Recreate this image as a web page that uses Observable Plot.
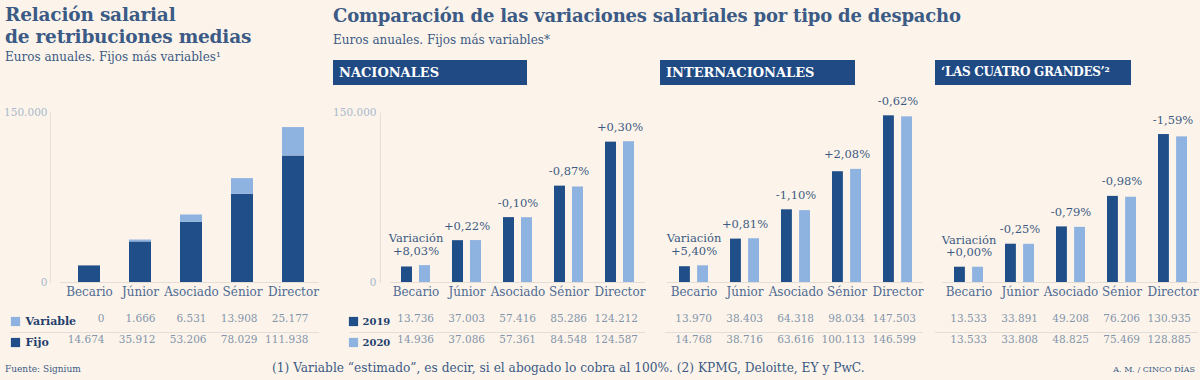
<!DOCTYPE html>
<html><head><meta charset="utf-8">
<script src="https://cdn.jsdelivr.net/npm/d3@7"></script>
<script src="https://cdn.jsdelivr.net/npm/@observablehq/plot@0.6"></script>
<style>
html,body{margin:0;padding:0;background:#fcf4ea;}
#wrap{position:relative;width:1200px;height:380px;overflow:hidden;font-family:"DejaVu Serif",serif;color:#3b5a85;}
.abs{position:absolute;white-space:nowrap;}
.t{font-weight:bold;letter-spacing:-0.2px;}
.s{font-size:12px;}
.box{position:absolute;background:#1f4a84;color:#fff;font-weight:bold;font-size:13px;height:25px;line-height:25px;padding-left:6px;box-sizing:border-box;white-space:nowrap;}
#plots svg{position:absolute;left:0;top:0;}
</style></head><body><div id="wrap">
<div id="plots"></div>
<div class="abs t" style="left:5px;top:4px;line-height:22px;font-size:18.5px;">Relación salarial<br>de retribuciones medias</div>
<div class="abs s" style="left:5px;top:50px;">Euros anuales. Fijos más variables¹</div>
<div class="abs t" style="left:333px;top:5px;font-size:18px;">Comparación de las variaciones salariales por tipo de despacho</div>
<div class="abs s" style="left:333px;top:33px;">Euros anuales. Fijos más variables*</div>
<div class="box" style="left:333px;top:60px;width:194px;">NACIONALES</div>
<div class="box" style="left:660px;top:60px;width:195px;">INTERNACIONALES</div>
<div class="box" style="left:935px;top:60px;width:196px;font-size:12px;letter-spacing:-0.3px;">‘LAS CUATRO GRANDES’²</div>
<div class="abs" style="left:5px;top:364px;font-size:9px;">Fuente: Signium</div>
<div class="abs" style="left:272px;top:361px;font-size:12.2px;">(1) Variable “estimado”, es decir, si el abogado lo cobra al 100%. (2) KPMG, Deloitte, EY y PwC.</div>
<div class="abs" style="right:5px;top:365px;font-size:8px;">A. M. / CINCO DÍAS</div>
</div>
<script>
const cats = ["Becario","Júnior","Asociado","Sénior","Director"];
const variable = [0,1666,6531,13908,25177];
const fijo = [14674,35912,53206,78029,111938];
const nac2019 = [13736,37003,57416,85286,124212];
const nac2020 = [14936,37086,57361,84548,124587];
const nacVar = ["+8,03%","+0,22%","-0,10%","-0,87%","+0,30%"];
const int2019 = [13970,38403,64318,98034,147503];
const int2020 = [14768,38716,63616,100113,146599];
const intVar = ["+5,40%","+0,81%","-1,10%","+2,08%","-0,62%"];
const big2019 = [13533,33891,49208,76206,130935];
const big2020 = [13533,33808,48825,75469,128885];
const bigVar = ["+0,00%","-0,25%","-0,79%","-0,98%","-1,59%"];
const yTicks = [0,150000];
const rowLabelsLeft = ["Variable","Fijo"];
const rowLabelsYears = ["2019","2020"];

const DARK="#1f4e88", LIGHT="#8fb3e0", CAT="#4e6a93", NUM="#8494aa", LAB="#3d5a82", GRID="#e4ded6", AX="#a9b8cc";
const fmt = d3.formatLocale({decimal:",",thousands:".",grouping:[3],currency:["","€"]}).format(",d");
const FONT = "DejaVu Serif";
const H=380, MT=112.5, MB=98;
const R1=39, R2=60, SEP=50;
const host = document.getElementById("plots");

function base(marginLeft, marginRight, x0, x1, pi, po, marks){
  return Plot.plot({
    width:1200, height:H, marginTop:MT, marginBottom:MB, marginLeft, marginRight,
    x:{domain:cats, range:[x0,x1], paddingInner:pi, paddingOuter:po, axis:null},
    y:{domain:[0,150000], axis:null},
    style:{background:"transparent", fontFamily:FONT, color:CAT, overflow:"visible"},
    marks
  });
}

function tableLabels(labels, colors, dxText, dxSq, fs){
  const ms = [];
  labels.forEach((lab,i)=>{
    ms.push(Plot.dot([lab], {y:()=>0, frameAnchor:"left", dx:dxSq, dy:i===0?R1:R2, symbol:"square", r:5.2, fill:colors[i]}));
    ms.push(Plot.text([lab], {y:()=>0, frameAnchor:"left", dx:dxText, dy:i===0?R1:R2, text:d=>d, textAnchor:"start", fontWeight:"bold", fontSize:fs, fill:"#1f3f6e"}));
  });
  return ms;
}

// Left stacked panel
{
  const stack = cats.flatMap((c,i)=>[{cat:c,type:"Fijo",value:fijo[i]},{cat:c,type:"Variable",value:variable[i]}]);
  const rows = cats.map((c,i)=>({cat:c, v:variable[i], f:fijo[i]}));
  host.append(base(50, 1200-319, 63, 319, 0.573, 0.27, [
    Plot.frame({anchor:"left", stroke:GRID}),
    Plot.ruleY([0], {stroke:GRID, insetLeft:10}),
    Plot.barY(stack, {x:"cat", y:"value", z:"type", fill:d=>d.type==="Fijo"?DARK:LIGHT}),
    Plot.axisY({ticks:yTicks, tickFormat:fmt, tickSize:0, tickPadding:3, fontSize:10.5, color:AX, label:null}),
    Plot.axisX({tickSize:0, tickPadding:5, fontSize:12, color:CAT, label:null}),
    Plot.ruleY([0], {stroke:GRID, dy:SEP, insetLeft:-40}),
    Plot.text(rows, {x:"cat", frameAnchor:"bottom", dy:R1, dx:15, textAnchor:"end", text:d=>fmt(d.v), fontSize:10.5, fill:NUM}),
    Plot.text(rows, {x:"cat", frameAnchor:"bottom", dy:R2, dx:15, textAnchor:"end", text:d=>fmt(d.f), fontSize:10.5, fill:NUM}),
    ...tableLabels(rowLabelsLeft, [LIGHT, DARK], -25, -35, 11)
  ]));
}

function grouped(v19, v20, vr, ml, x0, x1, withAxis, sepInset){
  const rows = cats.map((c,i)=>({cat:c, a:v19[i], b:v20[i], v:vr[i], m:Math.max(v19[i],v20[i])}));
  const pi=0.4325, po=0.211;
  const step=(x1-x0)/(cats.length-pi+2*po), bw=step*(1-pi), barW=11;
  const marks = [
    Plot.ruleY([0], {stroke:GRID, insetLeft:x0-ml}),
    Plot.barY(rows, {x:"cat", y:"a", fill:DARK, insetRight:bw-barW}),
    Plot.barY(rows, {x:"cat", y:"b", fill:LIGHT, insetLeft:bw-barW}),
    Plot.text(rows, {x:"cat", y:"m", text:(d,i)=> i===0 ? "Variación\n"+d.v : d.v, lineAnchor:"bottom", dy:-11, fontSize:11.5, fill:LAB, lineHeight:1.1}),
    Plot.axisX({tickSize:0, tickPadding:5, fontSize:12, color:CAT, label:null}),
    Plot.ruleY([0], {stroke:GRID, dy:SEP, insetLeft:sepInset}),
    Plot.text(rows, {x:"cat", frameAnchor:"bottom", dy:R1, dx:18, textAnchor:"end", text:d=>fmt(d.a), fontSize:10.5, fill:NUM}),
    Plot.text(rows, {x:"cat", frameAnchor:"bottom", dy:R2, dx:18, textAnchor:"end", text:d=>fmt(d.b), fontSize:10.5, fill:NUM})
  ];
  if (withAxis) {
    marks.push(Plot.frame({anchor:"left", stroke:GRID}));
    marks.push(Plot.axisY({ticks:yTicks, tickFormat:fmt, tickSize:0, tickPadding:4, fontSize:10.5, color:AX, label:null}));
    marks.push(...tableLabels(rowLabelsYears, [DARK, LIGHT], -18, -27, 10));
  }
  host.append(base(ml, 1200-x1, x0, x1, pi, po, marks));
}

grouped(nac2019, nac2020, nacVar, 380, 390, 645, true, -30);
grouped(int2019, int2020, intVar, 665, 667, 923, false, 0);
grouped(big2019, big2020, bigVar, 940, 942, 1198, false, -5);
</script>
</body></html>
